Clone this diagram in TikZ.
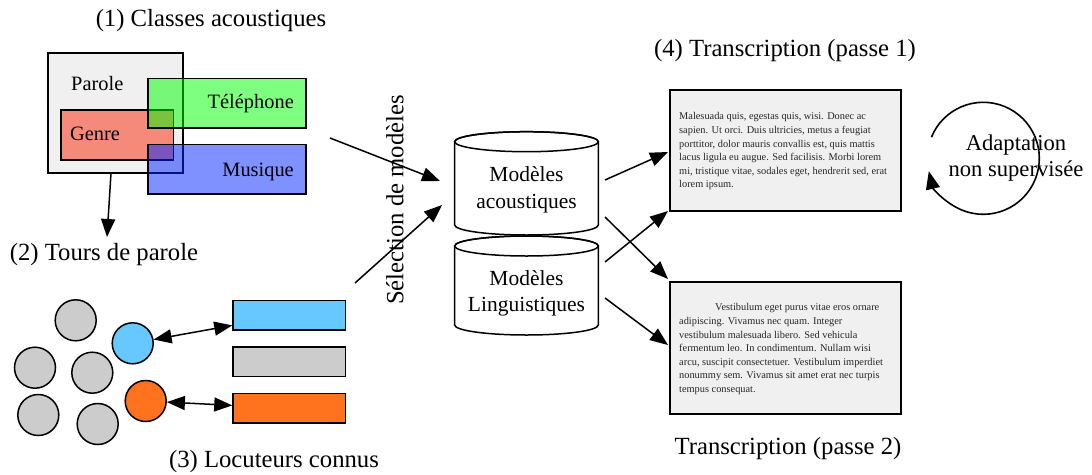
\documentclass[tikz,border=0pt]{standalone}
\usepackage{fontspec}
\setmainfont{Liberation Serif}
\usetikzlibrary{arrows.meta}
\definecolor{paperbg}{RGB}{240,240,240}
\definecolor{genrec}{RGB}{245,138,122}
\definecolor{telc}{RGB}{0,255,0}
\definecolor{musc}{RGB}{0,35,255}
\definecolor{spkblue}{RGB}{102,200,255}
\definecolor{spkorange}{RGB}{255,115,30}
\definecolor{spkgray}{RGB}{204,204,204}
\begin{document}
\begin{tikzpicture}[x=1pt,y=1pt,
  box/.style={draw, line width=1.6pt, inner sep=0},
  arr/.style={line width=1.5pt, -{Triangle[length=18pt,width=14pt]}},
  darr/.style={line width=1.5pt, {Triangle[length=18pt,width=14pt]}-{Triangle[length=18pt,width=14pt]}},
  ttl/.style={font=\fontsize{24.7}{29}\selectfont, inner sep=0, anchor=base},
  lab/.style={font=\fontsize{20.4}{24}\selectfont, inner sep=0},
  mdl/.style={font=\fontsize{21.5}{26.6}\selectfont, align=center, inner sep=0},
  para/.style={font=\fontsize{10.35}{13.6}\selectfont, align=left, inner sep=0, text=black!85, anchor=north west},
  spk/.style={circle, draw, line width=1.5pt, minimum size=41pt, inner sep=0, fill=spkgray},
  bar/.style={box, line width=1.5pt, minimum width=112.7pt, minimum height=29.7pt},
  cyl/.style={fill=white, line width=1.5pt},
]
\useasboundingbox (0,0) rectangle (1092,-474);

% titles
\node[ttl] (t1) at (211,-26) {(1) Classes acoustiques};
\node[ttl] (t2) at (104,-260.7) {(2) Tours de parole};
\node[ttl] (t3) at (274,-467.7) {(3) Locuteurs connus};
\node[ttl] (t4) at (785,-56.7) {(4) Transcription (passe 1)};
\node[ttl] (t5) at (788,-454) {Transcription (passe 2)};
\node[font=\fontsize{24.7}{29}\selectfont, inner sep=0, rotate=90] (sel) at (395,-200) {Sélection de modèles};

% (1) acoustic classes
\node[box, fill=paperbg, minimum width=135.3pt, minimum height=120.3pt] (parole) at (115.35,-112.85) {};
\node[lab, anchor=base west] (parolel) at (71,-90.7) {Parole};
\node[box, fill=genrec, minimum width=112.3pt, minimum height=50pt] (genre) at (117.15,-135) {};
\node[lab, anchor=base west] (genrel) at (70,-140.7) {Genre};
\node[box, fill=telc, fill opacity=0.5, minimum width=157.7pt, minimum height=49.4pt] (tel) at (226.85,-103) {};
\node[lab, anchor=base east] (tell) at (294,-108.3) {Téléphone};
\node[box, fill=musc, fill opacity=0.5, minimum width=157.7pt, minimum height=49.7pt] (mus) at (226.85,-169.2) {};
\node[lab, anchor=base east] (musl) at (294,-176) {Musique};

\coordinate (pa) at (111,-173);
\coordinate (pb) at (107,-237);
\draw[arr] (pa) -- (pb);

% (3) speakers
\node[spk] (c1) at (75.7,-320.3) {};
\node[spk] (c2) at (35,-367.7) {};
\node[spk] (c3) at (92.3,-372.7) {};
\node[spk] (c4) at (38.3,-415) {};
\node[spk] (c5) at (97.7,-424) {};
\node[spk, fill=spkblue] (cb) at (132.7,-343.3) {};
\node[spk, fill=spkorange] (co) at (145.7,-401) {};
\node[bar, fill=spkblue] (rb) at (289.35,-315.15) {};
\node[bar, fill=spkgray] (rg) at (289.35,-361.7) {};
\node[bar, fill=spkorange] (ro) at (289.35,-408.3) {};
\draw[darr] (cb) -- (rb);
\draw[darr] (co) -- (ro);

% model selection arrows
\coordinate (s1) at (330,-138);
\coordinate (e1) at (440,-181);
\coordinate (s2) at (355,-283);
\coordinate (e2) at (442,-205);
\draw[arr] (s1) -- (e1);
\draw[arr] (s2) -- (e2);

% cylinders
\filldraw[cyl] (454.7,-246) -- (454.7,-325) arc[start angle=180,end angle=360,x radius=71.8,y radius=10] -- (598.3,-246) arc[start angle=0,end angle=180,x radius=71.8,y radius=10] -- cycle;
\draw[line width=1.5pt] (526.5,-246) ellipse[x radius=71.8,y radius=10];
\filldraw[cyl] (454.7,-141.7) -- (454.7,-225) arc[start angle=180,end angle=360,x radius=71.8,y radius=10] -- (598.3,-141.7) arc[start angle=0,end angle=180,x radius=71.8,y radius=10] -- cycle;
\draw[line width=1.5pt] (526.5,-141.7) ellipse[x radius=71.8,y radius=10];
\node[mdl] (ma) at (526.5,-190) {Modèles\\acoustiques};
\node[mdl] (ml) at (526.5,-293.3) {Modèles\\Linguistiques};

% transcription boxes
\node[box, line width=2pt, fill=paperbg, minimum width=230.7pt, minimum height=121pt] (tr1) at (785.35,-150.5) {};
\node[para] (p1) at (679,-112.5) {Malesuada quis, egestas quis, wisi. Donec ac\\
sapien. Ut orci. Duis ultricies, metus a feugiat\\
porttitor, dolor mauris convallis est, quis mattis\\
lacus ligula eu augue. Sed facilisis. Morbi lorem\\
mi, tristique vitae, sodales eget, hendrerit sed, erat\\
lorem ipsum.};
\node[box, line width=2pt, fill=paperbg, minimum width=230.7pt, minimum height=132.6pt] (tr2) at (785.35,-348) {};
\node[para] (p2) at (679,-303.5) {\hspace*{36pt}Vestibulum eget purus vitae eros ornare\\
adipiscing. Vivamus nec quam. Integer\\
vestibulum malesuada libero. Sed vehicula\\
fermentum leo. In condimentum. Nullam wisi\\
arcu, suscipit consectetuer. Vestibulum imperdiet\\
nonummy sem. Vivamus sit amet erat nec turpis\\
tempus consequat.};

\coordinate (o1) at (605,-180);
\coordinate (o2) at (605,-217);
\coordinate (o3) at (605,-262);
\coordinate (o4) at (605,-298);
\coordinate (i1) at (668,-152);
\coordinate (i2) at (668,-279);
\coordinate (i3) at (668,-211);
\coordinate (i4) at (668,-345);
\draw[arr] (o1) -- (i1);
\draw[arr] (o2) -- (i2);
\draw[arr] (o3) -- (i3);
\draw[arr] (o4) -- (i4);

% adaptation
\node[mdl, font=\fontsize{22.6}{26.7}\selectfont] (ad) at (1016,-158.1) {Adaptation\\non supervisée};
\coordinate (ac) at (983.3,-158.3);
\draw[arr, line width=1.6pt] ([shift={(157.8:56)}]ac) arc[start angle=157.8, end angle=-166.7, radius=56];
\end{tikzpicture}
\end{document}
